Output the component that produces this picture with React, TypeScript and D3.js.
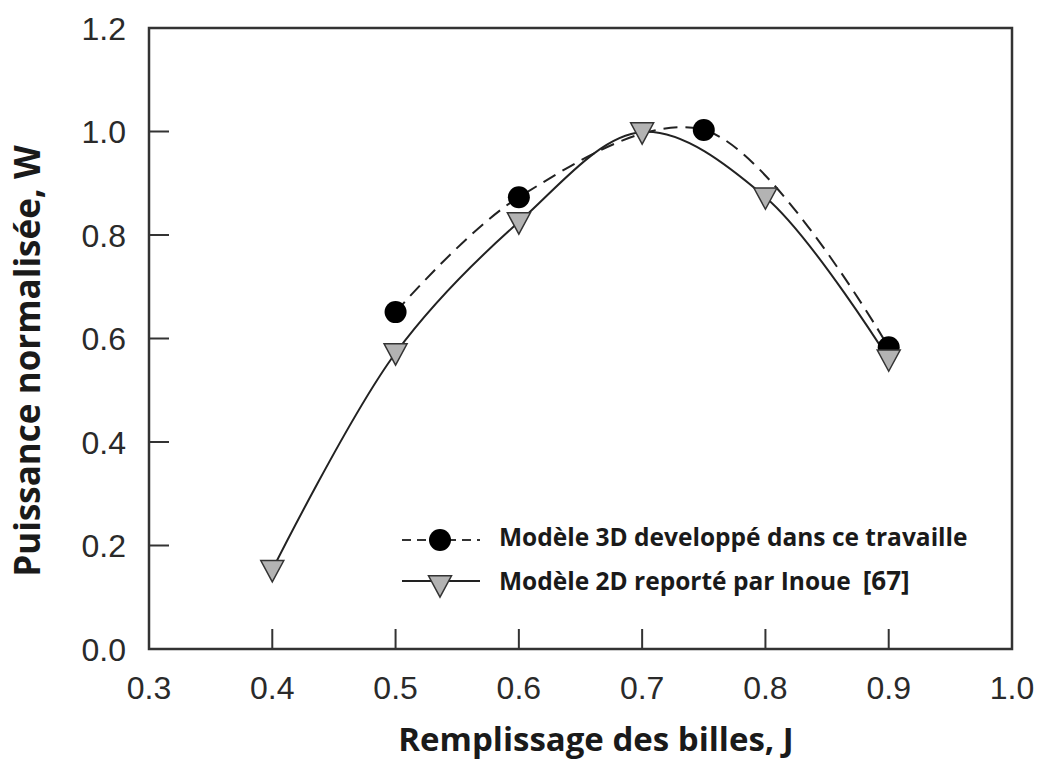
import React from "react";
import * as d3 from "d3";

const xTicks = [0.3, 0.4, 0.5, 0.6, 0.7, 0.8, 0.9, 1.0];
const yTicks = [0.0, 0.2, 0.4, 0.6, 0.8, 1.0, 1.2];

const model3dX = [0.5, 0.6, 0.75, 0.9];
const model3dY = [0.651, 0.873, 1.003, 0.583];

const model2dX = [0.4, 0.5, 0.6, 0.7, 0.8, 0.9];
const model2dY = [0.153, 0.572, 0.825, 0.999, 0.873, 0.56];

const legendLabels = ["Modèle 3D developpé dans ce travaille", "Modèle 2D reporté par Inoue", "[67]"];
const xTitle = "Remplissage des billes, J";
const yTitle = "Puissance normalisée, W";

const W = 1043;
const H = 762;
const left = 149, right = 1012, top = 28, bottom = 649;

export default function App() {
  const x = d3.scaleLinear().domain([0.3, 1.0]).range([left, right]);
  const y = d3.scaleLinear().domain([0, 1.2]).range([bottom, top]);

  const pts3 = model3dX.map((v, i) => [x(v), y(model3dY[i])] as [number, number]);
  const pts2 = model2dX.map((v, i) => [x(v), y(model2dY[i])] as [number, number]);
  const line = d3.line().curve(d3.curveCatmullRom.alpha(0.5));

  const tri = (cx: number, cy: number, s = 11.5) =>
    `M${cx - s},${cy - s * 0.8}L${cx + s},${cy - s * 0.8}L${cx},${cy + s * 1.05}Z`;

  const tickFont = "Liberation Sans, Arial, sans-serif";
  const boldFont = "'Open Sans', 'Noto Sans', sans-serif";

  return (
    <svg width={W} height={H} style={{ position: "absolute", left: 0, top: 0, background: "#fff" }}>
      <rect x={0} y={0} width={W} height={H} fill="#fff" />
      <rect x={left} y={top} width={right - left} height={bottom - top} fill="none" stroke="#333" strokeWidth={2.5} />
      {xTicks.map((t) => (
        <g key={"x" + t}>
          {t > 0.3 && t < 1.0 && (
            <line x1={x(t)} x2={x(t)} y1={bottom} y2={bottom - 20} stroke="#333" strokeWidth={2} />
          )}
          <text x={x(t)} y={699} textAnchor="middle" fontFamily={tickFont} fontSize={32} fill="#2a2a2a">
            {t.toFixed(1)}
          </text>
        </g>
      ))}
      {yTicks.map((t) => (
        <g key={"y" + t}>
          {t > 0 && t < 1.2 && (
            <line x1={left} x2={left + 20} y1={y(t)} y2={y(t)} stroke="#333" strokeWidth={2} />
          )}
          <text x={126} y={y(t) + 11.5} textAnchor="end" fontFamily={tickFont} fontSize={32} fill="#2a2a2a">
            {t.toFixed(1)}
          </text>
        </g>
      ))}
      <path d={line(pts2) || ""} fill="none" stroke="#222" strokeWidth={2} />
      <path d={line(pts3) || ""} fill="none" stroke="#222" strokeWidth={2} strokeDasharray="14,8" />
      {pts3.map(([cx, cy], i) => (
        <circle key={"c" + i} cx={cx} cy={cy} r={11} fill="#000" />
      ))}
      {pts2.map(([cx, cy], i) => (
        <path key={"t" + i} d={tri(cx, cy)} fill="#b3b3b3" stroke="#333" strokeWidth={1.5} />
      ))}
      <line x1={402} x2={480} y1={540} y2={540} stroke="#333" strokeWidth={2} strokeDasharray="9,6" />
      <circle cx={440} cy={540} r={11} fill="#000" />
      <text x={499} y={546} fontFamily={boldFont} fontWeight="bold" fontSize={24.5} fill="#1a1a1a">
        {legendLabels[0]}
      </text>
      <line x1={402} x2={480} y1={581} y2={581} stroke="#222" strokeWidth={2} />
      <path d={tri(440, 585)} fill="#b3b3b3" stroke="#333" strokeWidth={1.5} />
      <text x={499} y={590} fontFamily={boldFont} fontWeight="bold" fontSize={24.5} fill="#1a1a1a">
        {legendLabels[1]}
        <tspan dx={12} fontSize={26}>{legendLabels[2]}</tspan>
      </text>
      <text x={596} y={751} textAnchor="middle" fontFamily={boldFont} fontWeight="bold" fontSize={33} fill="#1a1a1a">
        {xTitle}
      </text>
      <text
        transform={`translate(40,361) rotate(-90)`}
        textAnchor="middle"
        fontFamily={boldFont}
        fontWeight="bold"
        fontSize={35}
        fill="#1a1a1a"
      >
        {yTitle}
      </text>
    </svg>
  );
}
